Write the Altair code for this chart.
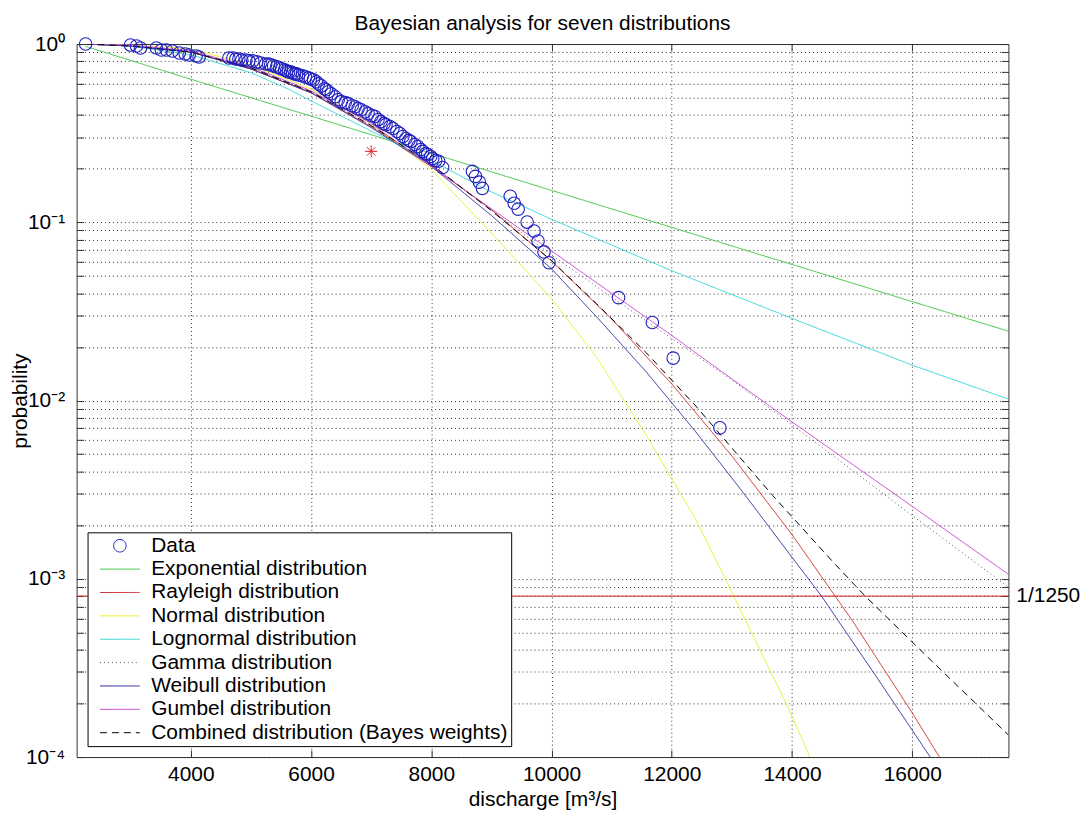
import altair as alt
import pandas as pd

FONT = "Liberation Sans"
FS = 21

# ---------------- series labels and styles ----------------
series_names = [
    "Data",
    "Exponential distribution",
    "Rayleigh distribution",
    "Normal distribution",
    "Lognormal distribution",
    "Gamma distribution",
    "\u00a0Weibull distribution",
    "Gumbel distribution",
    "Combined distribution (Bayes weights)",
]
series_colors = ["#2020c0", "#3fc43f", "#d02828", "#ecec2a", "#33d6d6",
                 "#555566", "#2a2aa0", "#cc40cc", "#000000"]
series_dashes = [[1, 0], [1, 0], [1, 0], [1, 0], [1, 0], [1, 3], [1, 0], [1, 0], [7, 5]]
CIRCLE = "M-0.63,0A0.63,0.63,0,1,1,0.63,0A0.63,0.63,0,1,1,-0.63,0Z"
LINE = "M-2,0L2,0"
series_shapes = [CIRCLE] + [LINE] * 8
STAR = "M-1,0L1,0M0,-1L0,1M-0.7,-0.7L0.7,0.7M-0.7,0.7L0.7,-0.7"

# ---------------- observed data (discharge, exceedance probability) ----------------
data_q = [2250, 2996, 3096, 3162, 3426, 3509, 3592, 3691, 3807, 3906, 3972, 4088, 4137,
          4633, 4699, 4749, 4799, 4848, 4915, 4964, 5030, 5096, 5162,
          5245, 5294, 5328, 5377, 5427, 5476, 5509, 5559, 5592, 5625,
          5658, 5691, 5725, 5758, 5791, 5857, 5906, 5956, 5989, 6039,
          6088, 6121, 6171, 6221, 6254, 6287, 6337, 6403, 6452, 6502,
          6568, 6618, 6684, 6733, 6783, 6833, 6899, 6948, 7014, 7064,
          7114, 7163, 7213, 7246, 7312, 7362, 7428, 7477, 7527, 7577,
          7626, 7659, 7725, 7775, 7825, 7858, 7907, 7940, 7990, 8023,
          8073, 8122, 8188,
          8684, 8734, 8800, 8850, 9313, 9379, 9445, 9594, 9710, 9776, 9875, 9958,
          11115, 11677, 12024, 12801]
data_p = [1.0, 0.987, 0.975, 0.950, 0.950, 0.926, 0.926, 0.914, 0.891, 0.880, 0.868, 0.857, 0.846,
          0.835, 0.835, 0.825, 0.825, 0.814, 0.814, 0.804, 0.804, 0.794, 0.783,
          0.773, 0.773, 0.764, 0.754, 0.745, 0.735, 0.725, 0.716, 0.707, 0.698,
          0.698, 0.689, 0.680, 0.680, 0.671, 0.663, 0.654, 0.646, 0.638, 0.630,
          0.614, 0.598, 0.583, 0.561, 0.554, 0.540, 0.526, 0.506, 0.487, 0.475,
          0.469, 0.463, 0.451, 0.445, 0.434, 0.428, 0.417, 0.407, 0.397, 0.392,
          0.377, 0.367, 0.358, 0.353, 0.344, 0.336, 0.323, 0.315, 0.303, 0.295,
          0.288, 0.284, 0.273, 0.266, 0.256, 0.250, 0.243, 0.240, 0.234, 0.228,
          0.222, 0.220, 0.203,
          0.193, 0.181, 0.168, 0.155, 0.140, 0.128, 0.1186, 0.1003, 0.0894, 0.0786, 0.0682, 0.0593,
          0.0378, 0.0274, 0.0173, 0.00703]

# ---------------- fitted distributions ----------------
exp_q = [2250, 4000, 6000, 8000, 10000, 12000, 14000, 16000, 17600]
exp_p = [0.970, 0.635, 0.394, 0.244, 0.151, 0.0936, 0.0580, 0.0359, 0.0245]

ray_q = [2250, 3000, 4000, 5000, 6000, 7000, 8000, 9000, 10000, 11000, 12000, 13000, 14000,
         15000, 16000, 16500, 16800]
ray_p = [1.0, 0.975, 0.902, 0.725, 0.533, 0.344, 0.2087, 0.1177, 0.0607, 0.02867, 0.01239,
         0.00489, 0.00177, 0.000585, 0.000177, 0.0000942, 0.000064]

norm_q = [2250, 3000, 4000, 5000, 6000, 7000, 8000, 9200, 10000, 10750, 11580, 12400, 13030,
          13940, 14300, 14470]
norm_p = [1.0, 0.987, 0.938, 0.764, 0.561, 0.358, 0.198, 0.0737, 0.0373, 0.0175, 0.00634, 0.00215,
          0.000801, 0.000188, 0.0001, 0.000076]

logn_q = [2250, 3000, 4000, 5000, 5620, 6000, 7000, 8000, 8930, 10000, 12000, 14000, 16000, 17600]
logn_p = [1.0, 0.975, 0.870, 0.690, 0.560, 0.480, 0.325, 0.222, 0.152, 0.104, 0.0535, 0.0289,
          0.0158, 0.0102]

gam_q = [2250, 3000, 4000, 5000, 6000, 7000, 8000, 9000, 10000, 10750, 12000, 13030, 14000,
         14880, 16040, 17600]
gam_p = [1.0, 0.975, 0.902, 0.735, 0.540, 0.349, 0.2113, 0.117, 0.0656, 0.0435, 0.0223, 0.01285,
         0.0073, 0.00437, 0.00221, 0.000899]

wei_q = [2250, 3000, 4000, 5000, 6000, 7000, 8000, 9000, 10000, 10750, 11580, 12400, 13200,
         14000, 14490, 15380, 16300, 16470]
wei_p = [1.0, 0.975, 0.902, 0.725, 0.533, 0.340, 0.206, 0.1092, 0.0548, 0.0295, 0.01442, 0.00667,
         0.00301, 0.00132, 0.000801, 0.00029, 0.0001, 0.0000815]

gum_q = [2250, 3000, 4000, 5000, 6000, 7000, 8000, 9000, 10000, 10750, 12000, 13030, 14000,
         16000, 17600]
gum_p = [1.0, 0.987, 0.914, 0.745, 0.547, 0.358, 0.205, 0.119, 0.0691, 0.0458, 0.0232, 0.0130,
         0.00759, 0.00255, 0.00106]

comb_q = [2250, 3000, 4000, 5000, 6000, 7000, 8000, 9000, 10000, 10750, 11580, 12400, 13680,
          14670, 15215, 16370, 17600]
comb_p = [1.0, 0.975, 0.902, 0.735, 0.540, 0.349, 0.2113, 0.1163, 0.0610, 0.0349, 0.01848,
          0.00932, 0.00293, 0.001256, 0.000801, 0.000334, 0.000133]

star_q = [7000]
star_p = [0.25]

limit_q = [17600]
limit_p = [1 / 1250]
limit_label = ["1/1250"]

x_ticks = [4000, 6000, 8000, 10000, 12000, 14000, 16000]
y_ticks = [round(m * 10.0 ** k, 8) for k in (-4, -3, -2, -1) for m in range(1, 10)] + [1.0]

# ---------------- tables ----------------
curves = [
    (series_names[1], exp_q, exp_p),
    (series_names[2], ray_q, ray_p),
    (series_names[3], norm_q, norm_p),
    (series_names[4], logn_q, logn_p),
    (series_names[5], gam_q, gam_p),
    (series_names[6], wei_q, wei_p),
    (series_names[7], gum_q, gum_p),
    (series_names[8], comb_q, comb_p),
]
rows = []
for name, qs, ps in curves:
    for q, p in zip(qs, ps):
        rows.append({"series": name, "q": q, "p": p})
curve_df = pd.DataFrame(rows)
data_df = pd.DataFrame({"series": "Data", "q": data_q, "p": data_p})
star_df = pd.DataFrame({"q": star_q, "p": star_p})
limit_df = pd.DataFrame({"q": limit_q, "p": limit_p, "label": limit_label})

x_scale = alt.Scale(domain=[2100, 17600], nice=False, zero=False)
y_scale = alt.Scale(type="log", domain=[0.0001, 1], nice=False)

grid_style = dict(grid=True, gridDash=[1, 3], gridColor="#222222", gridOpacity=0.9, gridWidth=1)
tick_style = dict(ticks=True, tickSize=7, offset=-7, tickColor="#333333", tickWidth=1, domain=False)
label_style = dict(labelFont=FONT, labelFontSize=FS, labelColor="black")

label_expr = ("datum.value == 1 ? '10\u2070' : datum.value == 0.1 ? '10\u207b\u00b9' : "
              "datum.value == 0.01 ? '10\u207b\u00b2' : datum.value == 0.001 ? '10\u207b\u00b3' : "
              "datum.value == 0.0001 ? '10\u207b\u2074' : ''")

x_axis_main = alt.Axis(values=x_ticks, format="d", labelPadding=7, labelOverlap=False,
                       title="discharge [m\u00b3/s]", titleFont=FONT, titleFontSize=FS,
                       titleFontWeight="normal", titleColor="black",
                       titleX=468.5, titleY=56, titleBaseline="alphabetic", titleAlign="center",
                       **grid_style, **tick_style, **label_style)
y_axis_main = alt.Axis(values=y_ticks, labelExpr=label_expr, labelPadding=12, labelOverlap=False,
                       title="probability", titleFont=FONT, titleFontSize=FS,
                       titleFontWeight="normal", titleColor="black",
                       titleX=-63, titleY=358.5, titleAngle=270, titleBaseline="middle",
                       titleAlign="center",
                       **grid_style, **tick_style, **label_style)
x_axis_aux = alt.Axis(orient="top", values=x_ticks, labels=False, grid=False, title=None, **tick_style)
y_axis_aux = alt.Axis(orient="right", values=y_ticks, labels=False, grid=False, title=None, **tick_style)

legend = alt.Legend(title=None, orient="none", legendX=11, legendY=491,
                    labelFont=FONT, labelFontSize=FS, labelColor="black", labelLimit=600,
                    symbolSize=400, symbolStrokeWidth=1, padding=3, rowPadding=1.5,
                    labelOffset=21, symbolOffset=19, strokeColor="#000000", fillColor="white")

color_enc = alt.Color("series:N", scale=alt.Scale(domain=series_names, range=series_colors), legend=legend)
shape_enc = alt.Shape("series:N", scale=alt.Scale(domain=series_names, range=series_shapes), legend=legend)
dash_enc = alt.StrokeDash("series:N", scale=alt.Scale(domain=series_names, range=series_dashes), legend=legend)

X = alt.X("q:Q", scale=x_scale, axis=x_axis_main)
Y = alt.Y("p:Q", scale=y_scale, axis=y_axis_main)

lines = alt.Chart(curve_df).mark_line(strokeWidth=1, clip=True).encode(
    x=X, y=Y, color=color_enc, strokeDash=dash_enc)
points = alt.Chart(data_df).mark_point(filled=False, size=400, strokeWidth=1.1, opacity=1).encode(
    x=X, y=Y, color=color_enc, shape=shape_enc)
star = alt.Chart(star_df).mark_point(shape=STAR, size=150, filled=False, stroke="#e32222",
                                     strokeWidth=1, opacity=1).encode(x=X, y=Y)
main = alt.layer(lines, points, star)

rule = alt.Chart(limit_df).mark_rule(color="#d42020", strokeWidth=1).encode(
    y=alt.Y("p:Q", scale=y_scale, axis=y_axis_aux))
text = alt.Chart(limit_df).mark_text(align="left", baseline="middle", dx=8, fontSize=FS,
                                     font=FONT, color="black").encode(
    x=alt.X("q:Q", scale=x_scale, axis=x_axis_aux),
    y=alt.Y("p:Q", scale=y_scale, axis=y_axis_aux),
    text="label:N")
aux = alt.layer(rule, text)

chart = alt.layer(main, aux).resolve_scale(x="independent", y="independent").properties(
    width=937, height=717,
    title=alt.TitleParams("Bayesian analysis for seven distributions", font=FONT, fontSize=FS,
                          fontWeight="normal", color="black", anchor="middle", frame="group",
                          offset=2, dy=20, baseline="alphabetic"),
    padding={"left": 69, "top": 34, "right": 74, "bottom": 54},
    autosize=alt.AutoSizeParams(type="none"),
).configure_view(stroke="#333333", strokeWidth=1)

chart.save("out.html", embed_options={"renderer": "svg", "actions": False})
